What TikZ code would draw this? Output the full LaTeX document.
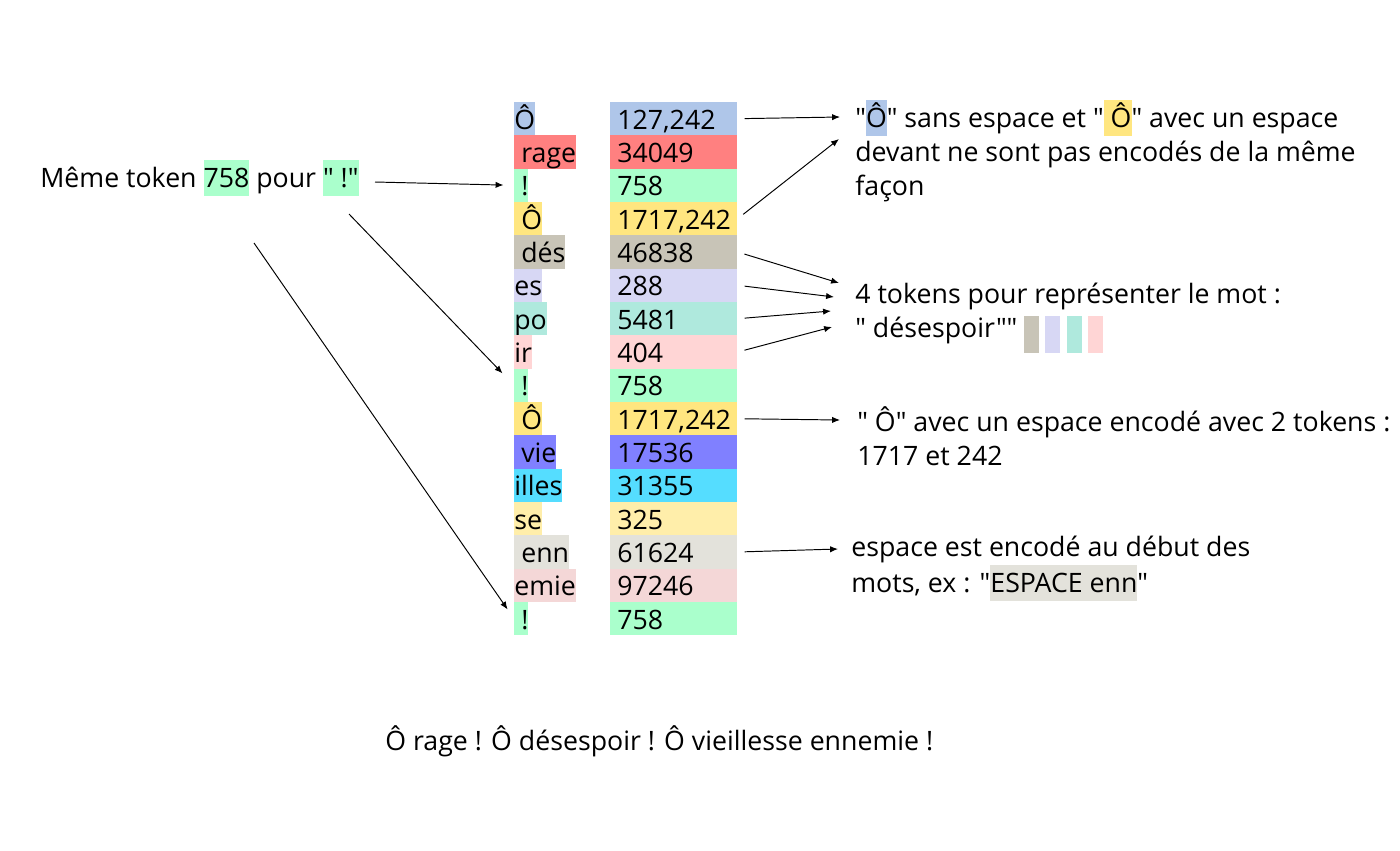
\documentclass[tikz,border=0pt]{standalone}
\usepackage{fontspec}
\setmainfont{Open Sans}[Ligatures=TeXOff]
\usetikzlibrary{arrows.meta}

\definecolor{cBlue}{HTML}{AFC6E9}
\definecolor{cRed}{HTML}{FF8080}
\definecolor{cGreen}{HTML}{AAFFCC}
\definecolor{cYellow}{HTML}{FFE680}
\definecolor{cTaupe}{HTML}{C8C4B7}
\definecolor{cLav}{HTML}{D7D7F4}
\definecolor{cMint}{HTML}{AFE9DD}
\definecolor{cPink}{HTML}{FFD5D5}
\definecolor{cPurple}{HTML}{8080FF}
\definecolor{cCyan}{HTML}{55DDFF}
\definecolor{cCream}{HTML}{FFEEAA}
\definecolor{cPale}{HTML}{E3E2DB}
\definecolor{cRose}{HTML}{F4D7D7}

\newcommand{\hlt}[2]{{\setlength{\fboxsep}{0pt}\colorbox{#1}{\rule[-0.33em]{0pt}{1.36em}#2}}}
\newcommand{\swatch}[1]{\textcolor{#1}{\rule[-0.6em]{0.56em}{1.38em}}}

\begin{document}
\begin{tikzpicture}
	[ x=0.02cm, y=-0.02cm,
	  font=\fontsize{15.2}{19.3}\selectfont,
	  tok/.style={anchor=west,inner sep=0pt,minimum height=0.666cm,text height=12pt,text depth=0pt},
	  num/.style={tok,inner xsep=0.14cm,text width=2.26cm,align=left},
	  txt/.style={anchor=base west,align=left,inner sep=0pt},
	  link/.style={-{Latex[length=4.5pt,width=3.6pt]},line width=0.55pt},
	  fromnum/.style={link,shorten <=4pt} ]

	\useasboundingbox (0,0) rectangle (1400,850);

	% tokens and their ids
	\node[tok,fill=cBlue]   (t1)  at (514,118.7) {Ô};      \node[num,fill=cBlue]   (n1)  at (610,118.7) {127,242};
	\node[tok,fill=cRed]    (t2)  at (514,152.0) {\ rage}; \node[num,fill=cRed]    (n2)  at (610,152.0) {34049};
	\node[tok,fill=cGreen]  (t3)  at (514,185.3) {\ !};    \node[num,fill=cGreen]  (n3)  at (610,185.3) {758};
	\node[tok,fill=cYellow] (t4)  at (514,218.7) {\ Ô};    \node[num,fill=cYellow] (n4)  at (610,218.7) {1717,242};
	\node[tok,fill=cTaupe]  (t5)  at (514,252.0) {\ dés};  \node[num,fill=cTaupe]  (n5)  at (610,252.0) {46838};
	\node[tok,fill=cLav]    (t6)  at (514,285.3) {es};     \node[num,fill=cLav]    (n6)  at (610,285.3) {288};
	\node[tok,fill=cMint]   (t7)  at (514,318.7) {po};     \node[num,fill=cMint]   (n7)  at (610,318.7) {5481};
	\node[tok,fill=cPink]   (t8)  at (514,352.0) {ir};     \node[num,fill=cPink]   (n8)  at (610,352.0) {404};
	\node[tok,fill=cGreen]  (t9)  at (514,385.3) {\ !};    \node[num,fill=cGreen]  (n9)  at (610,385.3) {758};
	\node[tok,fill=cYellow] (t10) at (514,418.7) {\ Ô};    \node[num,fill=cYellow] (n10) at (610,418.7) {1717,242};
	\node[tok,fill=cPurple] (t11) at (514,452.0) {\ vie};  \node[num,fill=cPurple] (n11) at (610,452.0) {17536};
	\node[tok,fill=cCyan]   (t12) at (514,485.3) {illes};  \node[num,fill=cCyan]   (n12) at (610,485.3) {31355};
	\node[tok,fill=cCream]  (t13) at (514,518.7) {se};     \node[num,fill=cCream]  (n13) at (610,518.7) {325};
	\node[tok,fill=cPale]   (t14) at (514,552.0) {\ enn};  \node[num,fill=cPale]   (n14) at (610,552.0) {61624};
	\node[tok,fill=cRose]   (t15) at (514,585.3) {emie};   \node[num,fill=cRose]   (n15) at (610,585.3) {97246};
	\node[tok,fill=cGreen]  (t16) at (514,618.7) {\ !};    \node[num,fill=cGreen]  (n16) at (610,618.7) {758};

	% comments (base = last line)
	\node[txt] (lbl) at (40,187) {Même token \hlt{cGreen}{758} pour \hlt{cGreen}{" !"}};
	\node[txt] (o1) at (855,195) {"\hlt{cBlue}{Ô}" sans espace et "\hlt{cYellow}{\ Ô}" avec un espace\\devant ne sont pas encodés de la même\\façon};
	\node[txt] (o2) at (855,337) {4 tokens pour représenter le mot :\\" désespoir"" \swatch{cTaupe}\hspace{0.23em}\swatch{cLav}\hspace{0.23em}\swatch{cMint}\hspace{0.23em}\swatch{cPink}};
	\node[txt] (o3) at (857,465) {" Ô" avec un espace encodé avec 2 tokens :\\1717 et 242};
	\node[txt] (o4) at (851,592) {espace est encodé au début des\\mots, ex : "\hlt{cPale}{ESPACE enn}"};
	\node[txt] (phrase) at (385,750) {Ô rage ! Ô désespoir ! Ô vieillesse ennemie !};

	\coordinate (s1) at (375,182);
	\coordinate (s2) at (349,214);
	\coordinate (s3) at (254,243);
	\draw[link,shorten >=6pt] (s1) -- (t3.west);
	\draw[link,shorten >=9.4pt] (s2) -- (t9.west);
	\draw[link,shorten >=6.4pt] (s3) -- (t16.west);

	\coordinate (e1) at (840,117);
	\coordinate (e2) at (839,139);
	\coordinate (e3) at (839,283);
	\coordinate (e4) at (834,297);
	\coordinate (e5) at (831,311);
	\coordinate (e6) at (832,327);
	\coordinate (e7) at (840,420);
	\coordinate (e8) at (838,549);
	\draw[fromnum] (n1.east) -- (e1);
	\draw[fromnum] (n4.east) -- (e2);
	\draw[fromnum] (n5.east) -- (e3);
	\draw[fromnum] (n6.east) -- (e4);
	\draw[fromnum] (n7.east) -- (e5);
	\draw[fromnum] (n8.east) -- (e6);
	\draw[fromnum] (n10.east) -- (e7);
	\draw[fromnum] (n14.east) -- (e8);

\end{tikzpicture}
\end{document}
